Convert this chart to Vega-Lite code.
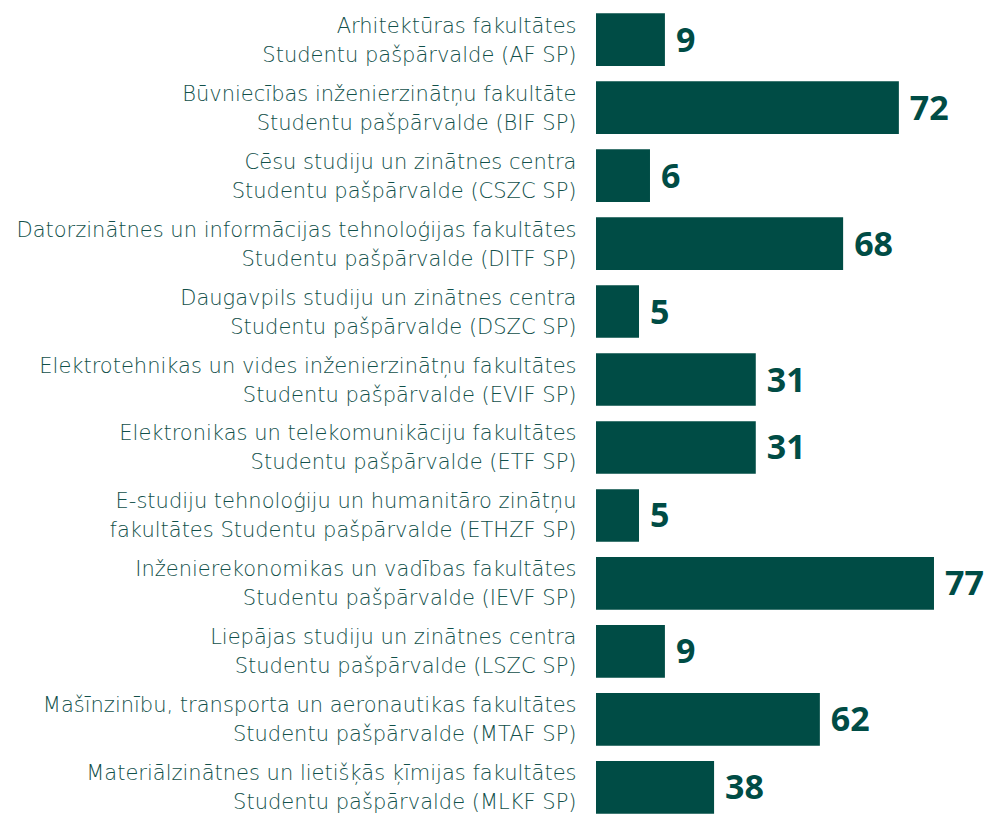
{
  "$schema": "https://vega.github.io/schema/vega-lite/v6.json",
  "width": 394,
  "height": 827,
  "autosize": "none",
  "padding": {"left": 596, "top": 0, "right": 0, "bottom": 0},
  "background": "white",
  "config": {"view": {"stroke": null}},
  "data": {
    "values": [
      {"nosaukums": "Arhitektūras fakultātes|Studentu pašpārvalde (AF SP)", "skaits": 9, "garums": 15.7},
      {"nosaukums": "Būvniecības inženierzinātņu fakultāte|Studentu pašpārvalde (BIF SP)", "skaits": 72, "garums": 69.0},
      {"nosaukums": "Cēsu studiju un zinātnes centra|Studentu pašpārvalde (CSZC SP)", "skaits": 6, "garums": 12.3},
      {"nosaukums": "Datorzinātnes un informācijas tehnoloģijas fakultātes|Studentu pašpārvalde (DITF SP)", "skaits": 68, "garums": 56.3},
      {"nosaukums": "Daugavpils studiju un zinātnes centra|Studentu pašpārvalde (DSZC SP)", "skaits": 5, "garums": 9.8},
      {"nosaukums": "Elektrotehnikas un vides inženierzinātņu fakultātes|Studentu pašpārvalde (EVIF SP)", "skaits": 31, "garums": 36.4},
      {"nosaukums": "Elektronikas un telekomunikāciju fakultātes|Studentu pašpārvalde (ETF SP)", "skaits": 31, "garums": 36.4},
      {"nosaukums": "E-studiju tehnoloģiju un humanitāro zinātņu|fakultātes Studentu pašpārvalde (ETHZF SP)", "skaits": 5, "garums": 9.8},
      {"nosaukums": "Inženierekonomikas un vadības fakultātes|Studentu pašpārvalde (IEVF SP)", "skaits": 77, "garums": 77.0},
      {"nosaukums": "Liepājas studiju un zinātnes centra|Studentu pašpārvalde (LSZC SP)", "skaits": 9, "garums": 15.7},
      {"nosaukums": "Mašīnzinību, transporta un aeronautikas fakultātes|Studentu pašpārvalde (MTAF SP)", "skaits": 62, "garums": 51.0},
      {"nosaukums": "Materiālzinātnes un lietišķās ķīmijas fakultātes|Studentu pašpārvalde (MLKF SP)", "skaits": 38, "garums": 26.9}
    ]
  },
  "encoding": {
    "y": {
      "field": "nosaukums",
      "type": "nominal",
      "sort": null,
      "scale": {"paddingInner": 0.225, "paddingOuter": 0.195},
      "axis": {
        "title": null,
        "domain": false,
        "ticks": false,
        "labelPadding": 20,
        "labelFont": "DejaVu Sans",
        "labelFontWeight": 200,
        "labelFontSize": 21,
        "labelColor": "#11504a",
        "labelLimit": 0,
        "labelLineHeight": 29,
        "labelAlign": "right",
        "labelBaseline": "middle",
        "labelOffset": -13,
        "labelExpr": "split(datum.label, '|')"
      }
    },
    "x": {
      "field": "garums",
      "type": "quantitative",
      "scale": {"domain": [0, 89.76], "nice": false},
      "axis": null
    }
  },
  "layer": [
    {"mark": {"type": "bar", "color": "#004c45"}},
    {
      "mark": {"type": "text", "align": "left", "baseline": "middle", "dx": 11, "dy": 2, "font": "Open Sans", "fontWeight": 700, "fontSize": 34, "color": "#004c45"},
      "encoding": {"text": {"field": "skaits", "type": "quantitative"}}
    }
  ]
}
